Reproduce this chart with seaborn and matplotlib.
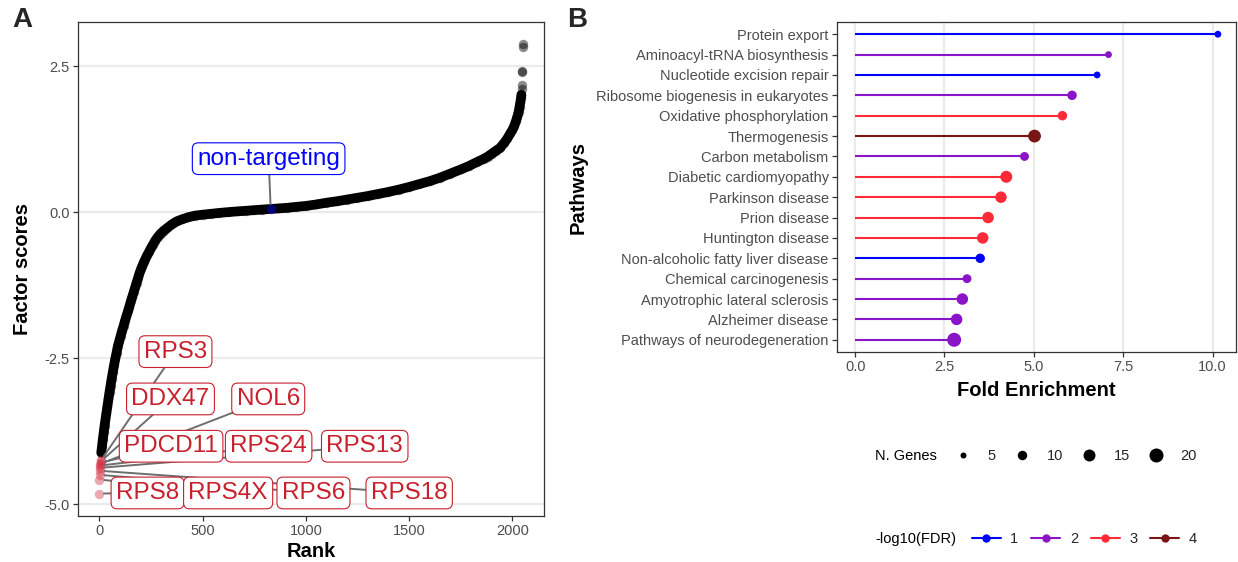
import numpy as np
import pandas as pd
import matplotlib
matplotlib.use("Agg")
import matplotlib.pyplot as plt
import seaborn as sns
from matplotlib.lines import Line2D

# ---------------- Panel A data (rank plot of factor scores) ----------------
curve_rank = [10, 14, 18, 22, 26, 30, 35, 40, 45, 50, 55, 60, 66, 72, 78, 84, 90, 97,
              104, 111, 118, 125, 132, 139, 146, 153, 160, 167, 174, 181, 188, 195,
              202, 209, 216, 224, 232, 240, 250, 260, 271, 283, 297, 312, 330, 352,
              375, 400, 430, 465, 500, 540, 580, 627, 670, 710, 750, 790, 870, 910,
              950, 1000, 1050, 1100, 1150, 1200, 1250, 1300, 1350, 1400, 1450, 1500,
              1550, 1600, 1650, 1700, 1750, 1790, 1830, 1860, 1880, 1900, 1920, 1940,
              1961, 1975, 1990, 2000, 2009, 2017, 2024, 2030, 2034, 2038, 2041, 2043]
curve_score = [-4.12, -4.00, -3.88, -3.77, -3.66, -3.56, -3.44, -3.32, -3.20, -3.08,
               -2.97, -2.86, -2.74, -2.62, -2.51, -2.41, -2.30, -2.21, -2.12, -2.03,
               -1.95, -1.86, -1.78, -1.70, -1.62, -1.53, -1.45, -1.37, -1.29, -1.21,
               -1.13, -1.05, -0.98, -0.92, -0.86, -0.80, -0.74, -0.69, -0.62, -0.56,
               -0.49, -0.43, -0.37, -0.32, -0.27, -0.21, -0.16, -0.125, -0.09, -0.06,
               -0.045, -0.03, -0.015, 0.0, 0.012, 0.022, 0.033, 0.043, 0.063, 0.073,
               0.088, 0.105, 0.13, 0.16, 0.185, 0.215, 0.245, 0.275, 0.31, 0.345,
               0.385, 0.43, 0.48, 0.53, 0.59, 0.66, 0.73, 0.79, 0.86, 0.91, 0.95,
               1.00, 1.05, 1.10, 1.19, 1.26, 1.35, 1.41, 1.48, 1.56, 1.64, 1.72,
               1.80, 1.88, 1.95, 2.01]
top_rank = [2045, 2046, 2047, 2048, 2049, 2050]
top_score = [2.10, 2.18, 2.39, 2.41, 2.82, 2.87]

hit_genes = ["RPS8", "RPS4X", "RPS6", "RPS18", "RPS13", "RPS24", "NOL6",
             "PDCD11", "DDX47", "RPS3"]
hit_rank = [0, 1, 2, 3, 4, 5, 6, 7, 8, 9]
hit_score = [-4.82, -4.58, -4.50, -4.43, -4.38, -4.34, -4.31, -4.29, -4.27, -4.25]

nt_label = "non-targeting"
nt_rank = 830
nt_score = 0.053

# label placement (layout only)
hit_lab_x = [234, 624, 1037, 1500, 1285, 820, 818, 348, 345, 369]
hit_lab_y = [-4.81, -4.81, -4.81, -4.81, -4.01, -4.01, -3.20, -4.01, -3.20, -2.39]
nt_lab_x, nt_lab_y = 820, 0.914

# ---------------- Panel B data (KEGG enrichment) ----------------
pathways = ["Protein export", "Aminoacyl-tRNA biosynthesis", "Nucleotide excision repair",
            "Ribosome biogenesis in eukaryotes", "Oxidative phosphorylation",
            "Thermogenesis", "Carbon metabolism", "Diabetic cardiomyopathy",
            "Parkinson disease", "Prion disease", "Huntington disease",
            "Non-alcoholic fatty liver disease", "Chemical carcinogenesis",
            "Amyotrophic lateral sclerosis", "Alzheimer disease",
            "Pathways of neurodegeneration"]
fold_enrichment = [10.15, 7.09, 6.77, 6.07, 5.80, 5.02, 4.74, 4.23, 4.08, 3.72, 3.57,
                   3.50, 3.13, 3.00, 2.84, 2.77]
n_genes = [6, 6, 6, 10, 10, 17, 9, 15, 14, 14, 14, 10, 9, 14, 14, 20]
fdr_level = [1, 2, 1, 2, 3, 4, 2, 3, 3, 3, 3, 1, 2, 2, 2, 2]
size_breaks = [5, 10, 15, 20]
fdr_breaks = [1, 2, 3, 4]

# ---------------- styling ----------------
sns.set_theme(style="white")
plt.rcParams['font.family'] = ['Liberation Sans', 'DejaVu Sans']
plt.rcParams['axes.unicode_minus'] = False

fdr_colors = {1: "#0000FF", 2: "#8A14C8", 3: "#FF2A38", 4: "#7A1515"}
red_txt = "#C8202C"
grid_c = "#EBEBEB"
tick_c = "#4D4D4D"
spine_c = "#333333"
S_MIN, S_MAX = (6 * 0.72) ** 2, (14 * 0.72) ** 2

fig = plt.figure(figsize=(12.38, 5.62), dpi=100)
W, H = 1238, 562
axA = fig.add_axes([78 / W, 1 - 516 / H, 466 / W, 494 / H])
axB = fig.add_axes([837 / W, 1 - 352 / H, 399 / W, 330 / H])

for ax in (axA, axB):
    for sp in ax.spines.values():
        sp.set_color(spine_c)
        sp.set_linewidth(0.9)
        sp.set_visible(True)
    ax.tick_params(axis='both', which='major', length=3.5, width=0.9, color=spine_c,
                   labelcolor=tick_c, labelsize=10.5, pad=2.5, direction='out',
                   bottom=True, left=True)
    ax.set_facecolor('white')

# ---------------- Panel A ----------------
axA.set_axisbelow(True)
axA.yaxis.grid(True, color=grid_c, lw=1.6)
axA.xaxis.grid(False)

sns.lineplot(x=curve_rank, y=curve_score, color='black', lw=7.0, ax=axA,
             solid_capstyle='round', zorder=2)
sns.scatterplot(x=curve_rank, y=curve_score, color='black', alpha=0.45, s=46,
                linewidth=0, ax=axA, zorder=3)
sns.scatterplot(x=top_rank, y=top_score, color='black', alpha=0.45, s=46,
                linewidth=0, ax=axA, zorder=3)
sns.scatterplot(x=hit_rank, y=hit_score, color='#D42A3C', alpha=0.4, s=46,
                linewidth=0, ax=axA, zorder=3)
sns.scatterplot(x=[nt_rank], y=[nt_score], color='#0000FF', alpha=0.45, s=46,
                linewidth=0, ax=axA, zorder=3)

all_r = curve_rank + top_rank + hit_rank
all_s = curve_score + top_score + hit_score
rr = max(all_r) - min(all_r)
sr = max(all_s) - min(all_s)
axA.set_xlim(min(all_r) - 0.05 * rr, max(all_r) + 0.05 * rr)
axA.set_ylim(min(all_s) - 0.05 * sr, max(all_s) + 0.05 * sr)
axA.set_xticks([0, 500, 1000, 1500, 2000])
axA.set_xticklabels(["0", "500", "1000", "1500", "2000"])
axA.set_yticks([-5, -2.5, 0, 2.5])
axA.set_yticklabels(["-5.0", "-2.5", "0.0", "2.5"])

lab_fs = 17.5
box_kw = dict(boxstyle='round,pad=0.2,rounding_size=0.25', lw=0.8)

def put_label(txt, px, py, lx, ly):
    axA.annotate(txt, xy=(px, py), xytext=(lx, ly), ha='center', va='center',
                 fontsize=lab_fs, color='none',
                 bbox=dict(fc='none', ec='none', **box_kw),
                 arrowprops=dict(arrowstyle='-', color='#6E6E6E', lw=1.4,
                                 shrinkA=0, shrinkB=3.5), zorder=4)

def put_box(txt, lx, ly, col):
    axA.text(lx, ly, txt, ha='center', va='center', fontsize=lab_fs, color=col,
             bbox=dict(fc='white', ec=col, **box_kw), zorder=6)

for g, r, s, lx, ly in zip(hit_genes, hit_rank, hit_score, hit_lab_x, hit_lab_y):
    put_label(g, r, s, lx, ly)
put_label(nt_label, nt_rank, nt_score, nt_lab_x, nt_lab_y)
for g, lx, ly in zip(hit_genes, hit_lab_x, hit_lab_y):
    put_box(g, lx, ly, red_txt)
put_box(nt_label, nt_lab_x, nt_lab_y, '#0000FF')

axA.set_xlabel("Rank", fontsize=14.5, fontweight='bold', color='black')
axA.set_ylabel("Factor scores", fontsize=14.5, fontweight='bold', color='black')
axA.xaxis.label.set_va('bottom')
axA.xaxis.set_label_coords(0.5, (516 - 561) / 494)
axA.yaxis.set_label_coords(-0.099, 0.5)

# ---------------- Panel B ----------------
dfB = pd.DataFrame({"pathway": pathways, "fe": fold_enrichment,
                    "genes": n_genes, "fdr": fdr_level})
axB.set_axisbelow(True)
axB.xaxis.grid(True, color=grid_c, lw=1.6)
axB.yaxis.grid(False)
axB.hlines(y=dfB["pathway"], xmin=0, xmax=dfB["fe"],
           colors=[fdr_colors[v] for v in dfB["fdr"]], lw=1.5, zorder=2)
sns.scatterplot(data=dfB, x="fe", y="pathway", hue="fdr", palette=fdr_colors,
                size="genes", sizes=(S_MIN, S_MAX), size_norm=(5, 20),
                linewidth=0, legend=False, ax=axB, zorder=3)
mx = max(fold_enrichment)
axB.set_xlim(-0.05 * mx, 1.05 * mx)
axB.set_ylim(len(pathways) - 1 + 0.6, -0.6)
axB.set_xticks([0, 2.5, 5, 7.5, 10])
axB.set_xticklabels(["0.0", "2.5", "5.0", "7.5", "10.0"])
axB.set_xlabel("Fold Enrichment", fontsize=14.5, fontweight='bold', color='black')
axB.set_ylabel("Pathways", fontsize=14.5, fontweight='bold', color='black')
axB.xaxis.set_label_coords(0.5, -0.088)
axB.yaxis.set_label_coords(-0.625, 0.5)

# ---------------- legends ----------------
leg_fs = 10.5
size_handles = [Line2D([], [], ls='', marker='o', color='black', markeredgewidth=0,
                       markersize=np.sqrt(S_MIN + (S_MAX - S_MIN) * (b - 5) / 15))
                for b in size_breaks]
fig.text(875 / W, 1 - 456 / H, "N. Genes", fontsize=leg_fs, va='center', ha='left',
         color='black')
fig.legend(size_handles, [str(b) for b in size_breaks], loc='center left',
           bbox_to_anchor=(954 / W, 1 - 456 / H), ncol=4, frameon=False,
           fontsize=leg_fs, handlelength=1.2, handletextpad=1.1, columnspacing=1.18,
           borderpad=0, borderaxespad=0)

fdr_handles = [Line2D([], [], color=fdr_colors[b], lw=1.5, marker='o',
                      markersize=6, markeredgewidth=0) for b in fdr_breaks]
fig.text(875 / W, 1 - 539 / H, "-log10(FDR)", fontsize=leg_fs, va='center',
         ha='left', color='black')
fig.legend(fdr_handles, [str(b) for b in fdr_breaks], loc='center left',
           bbox_to_anchor=(971.5 / W, 1 - 539 / H), ncol=4, frameon=False,
           fontsize=leg_fs, handlelength=2.0, handletextpad=0.66, columnspacing=0.87,
           borderpad=0, borderaxespad=0)

# panel tags
fig.text(22 / W, 1 - 20 / H, "A", fontsize=20, fontweight='bold', ha='center',
         va='center')
fig.text(577 / W, 1 - 20 / H, "B", fontsize=20, fontweight='bold', ha='center',
         va='center')

fig.savefig("out.png", dpi=100)
